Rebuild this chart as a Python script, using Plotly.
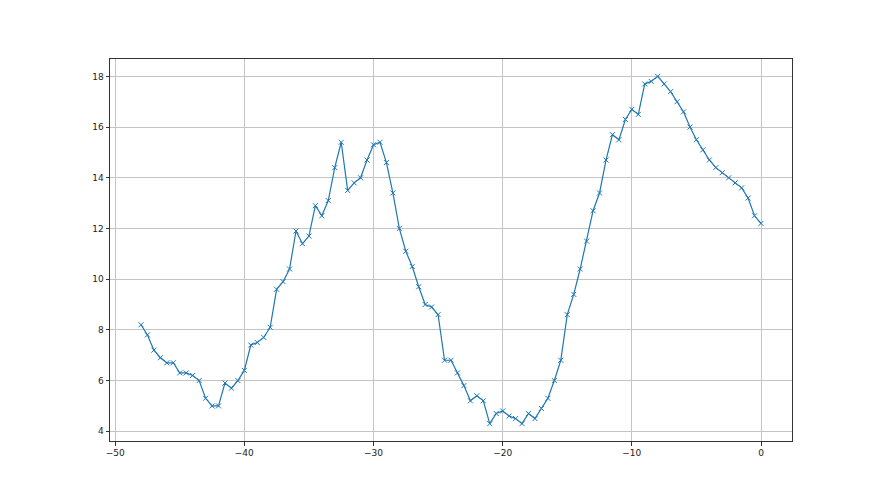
import plotly.graph_objects as go

x_vals = [-48.0, -47.5, -47.0, -46.5, -46.0, -45.5, -45.0, -44.5, -44.0, -43.5,
          -43.0, -42.5, -42.0, -41.5, -41.0, -40.5, -40.0, -39.5, -39.0, -38.5,
          -38.0, -37.5, -37.0, -36.5, -36.0, -35.5, -35.0, -34.5, -34.0, -33.5,
          -33.0, -32.5, -32.0, -31.5, -31.0, -30.5, -30.0, -29.5, -29.0, -28.5,
          -28.0, -27.5, -27.0, -26.5, -26.0, -25.5, -25.0, -24.5, -24.0, -23.5,
          -23.0, -22.5, -22.0, -21.5, -21.0, -20.5, -20.0, -19.5, -19.0, -18.5,
          -18.0, -17.5, -17.0, -16.5, -16.0, -15.5, -15.0, -14.5, -14.0, -13.5,
          -13.0, -12.5, -12.0, -11.5, -11.0, -10.5, -10.0, -9.5, -9.0, -8.5,
          -8.0, -7.5, -7.0, -6.5, -6.0, -5.5, -5.0, -4.5, -4.0, -3.5,
          -3.0, -2.5, -2.0, -1.5, -1.0, -0.5, 0.0]

y_vals = [8.2, 7.8, 7.2, 6.9, 6.7, 6.7, 6.3, 6.3, 6.2, 6.0,
          5.3, 5.0, 5.0, 5.9, 5.7, 6.0, 6.4, 7.4, 7.5, 7.7,
          8.1, 9.6, 9.9, 10.4, 11.9, 11.4, 11.7, 12.9, 12.5, 13.1,
          14.4, 15.4, 13.5, 13.8, 14.0, 14.7, 15.3, 15.4, 14.6, 13.4,
          12.0, 11.1, 10.5, 9.7, 9.0, 8.9, 8.6, 6.8, 6.8, 6.3,
          5.8, 5.2, 5.4, 5.2, 4.3, 4.7, 4.8, 4.6, 4.5, 4.3,
          4.7, 4.5, 4.9, 5.3, 6.0, 6.8, 8.6, 9.4, 10.4, 11.5,
          12.7, 13.4, 14.7, 15.7, 15.5, 16.3, 16.7, 16.5, 17.7, 17.8,
          18.0, 17.7, 17.4, 17.0, 16.6, 16.0, 15.5, 15.1, 14.7, 14.4,
          14.2, 14.0, 13.8, 13.6, 13.2, 12.5, 12.2]

x_ticks = [-50, -40, -30, -20, -10, 0]
y_ticks = [4, 6, 8, 10, 12, 14, 16, 18]

fig = go.Figure()
fig.add_trace(go.Scatter(
    x=x_vals, y=y_vals, mode="lines+markers",
    line=dict(color="#1f77b4", width=1.2),
    marker=dict(symbol="x-thin-open", size=5, color="#1f77b4",
                line=dict(width=1, color="#1f77b4")),
    showlegend=False,
))

axis_common = dict(
    showgrid=True, gridcolor="#c4c4c4", gridwidth=0.8,
    showline=True, linecolor="#333333", linewidth=1, mirror=True,
    ticks="outside", ticklen=3.5, tickwidth=0.8, tickcolor="#333333",
    zeroline=False,
    tickfont=dict(family="DejaVu Sans", size=9, color="#222222"),
)

fig.update_xaxes(range=[-50.4, 2.4], tickvals=x_ticks,
                 ticktext=["\u221250", "\u221240", "\u221230", "\u221220", "\u221210", "0"],
                 **axis_common)
fig.update_yaxes(range=[3.615, 18.685], tickvals=y_ticks, **axis_common)

fig.update_layout(
    width=880, height=495,
    margin=dict(l=102, r=96, t=51, b=62),
    paper_bgcolor="white", plot_bgcolor="white",
)

fig.write_html("out.html")
